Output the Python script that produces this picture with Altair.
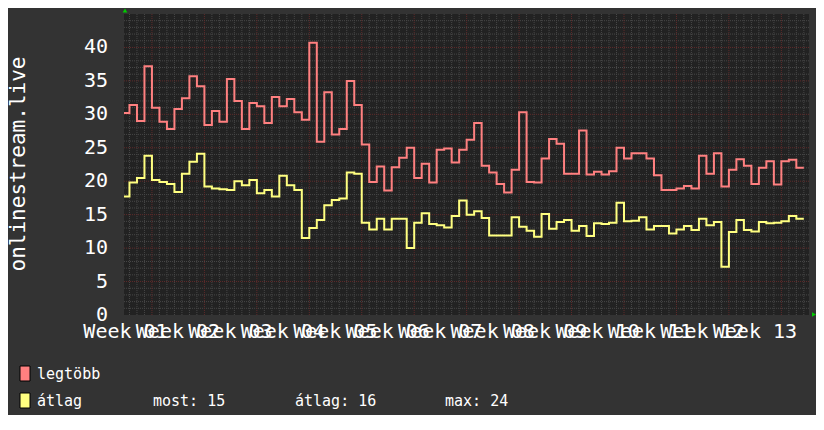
import altair as alt
import pandas as pd

# ---- data (daily steps, first step partially visible) ----
max_vals = [30.2, 31.4, 29.0, 37.2, 31.0, 28.9, 27.8, 30.8, 32.4, 35.7,
            34.2, 28.4, 30.5, 28.9, 35.3, 32.0, 27.8, 31.7, 31.2, 28.7,
            32.6, 31.2, 32.3, 30.3, 29.2, 40.7, 25.9, 33.3, 27.0, 27.8,
            35.0, 31.4, 25.5, 19.9, 22.2, 18.6, 22.1, 23.5, 25.0, 20.5,
            22.6, 19.8, 24.7, 24.9, 22.8, 24.7, 26.2, 28.7, 22.3, 21.3,
            19.6, 18.3, 21.7, 30.3, 19.9, 19.8, 23.4, 26.3, 25.6, 21.1,
            21.1, 27.6, 21.0, 21.4, 21.0, 21.5, 25.0, 23.4, 24.2, 24.2,
            23.4, 20.9, 18.7, 18.7, 18.9, 19.3, 18.9, 23.8, 21.1, 24.2,
            19.2, 21.7, 23.3, 22.3, 19.6, 22.0, 23.0, 19.5, 23.0, 23.2,
            22.0]
avg_vals = [17.7, 19.8, 20.5, 23.8, 20.2, 19.9, 19.6, 18.4, 21.1, 22.9,
            24.1, 19.2, 18.9, 18.8, 18.7, 20.0, 19.4, 20.2, 18.2, 18.7,
            17.7, 20.8, 19.4, 18.7, 11.5, 13.0, 14.2, 16.4, 17.2, 17.4,
            21.3, 21.1, 13.8, 12.8, 14.4, 12.8, 14.4, 14.4, 10.0, 13.8,
            15.2, 13.6, 13.4, 13.1, 14.8, 17.1, 15.0, 15.5, 14.5, 11.9,
            11.9, 11.9, 14.6, 13.2, 12.6, 11.7, 15.1, 12.9, 13.9, 14.2,
            12.6, 13.3, 11.8, 13.7, 13.6, 13.8, 16.8, 14.0, 14.1, 14.6,
            12.8, 13.3, 13.3, 12.2, 12.8, 13.3, 12.7, 14.4, 13.4, 13.9,
            7.2, 12.4, 14.2, 12.7, 12.5, 13.9, 13.7, 13.8, 14.0, 14.8,
            14.4]
day_index = list(range(-1, 90))
week_labels = ["Week %02d" % k for k in range(1, 14)]
y_ticks = [0, 5, 10, 15, 20, 25, 30, 35, 40]
y_title = "onlinestream.live"
legend_names = ["legtöbb", "átlag"]
legend_stats = ["most: 15", "átlag: 16", "max: 24"]

# ---- styling ----
W, H = 685, 301
RED, YEL = "#ff8080", "#ffff80"
FONT = "DejaVu Sans Mono"
xs = alt.Scale(domain=[-0.73, 90.69], nice=False, zero=False)
ys = alt.Scale(domain=[0, 45], nice=False, zero=False)

series = pd.DataFrame({
    "t": day_index + [90],
    "max": max_vals + [max_vals[-1]],
    "avg": avg_vals + [avg_vals[-1]],
})

days = list(range(0, 91))
minor_v = pd.DataFrame({"t": [d for d in days if (d - 3) % 7 != 0]})
major_v = pd.DataFrame({"t": [d for d in days if (d - 3) % 7 == 0]})
minor_h = pd.DataFrame({"v": [v for v in range(1, 45) if v % 5 != 0]})
major_h = pd.DataFrame({"v": [v for v in range(5, 45, 5)]})

MINOR, MAJOR = "#474747", "#5f2b2b"
grid_minor_v = alt.Chart(minor_v).mark_rule(color=MINOR, strokeDash=[1, 1], strokeWidth=1).encode(
    x=alt.X("t:Q", scale=xs, axis=None))
grid_minor_h = alt.Chart(minor_h).mark_rule(color=MINOR, strokeDash=[1, 1], strokeWidth=1).encode(
    y=alt.Y("v:Q", scale=ys, axis=None))
grid_major_v = alt.Chart(major_v).mark_rule(color=MAJOR, strokeDash=[1, 1], strokeWidth=1).encode(
    x=alt.X("t:Q", scale=xs, axis=None))
grid_major_h = alt.Chart(major_h).mark_rule(color=MAJOR, strokeDash=[1, 1], strokeWidth=1).encode(
    y=alt.Y("v:Q", scale=ys, axis=None))

line_max = alt.Chart(series).mark_line(interpolate="step-after", color=RED, strokeWidth=2, clip=True).encode(
    x=alt.X("t:Q", scale=xs, axis=None), y=alt.Y("max:Q", scale=ys, axis=None))
line_avg = alt.Chart(series).mark_line(interpolate="step-after", color=YEL, strokeWidth=2, clip=True).encode(
    x=alt.X("t:Q", scale=xs, axis=None), y=alt.Y("avg:Q", scale=ys, axis=None))

ylab = alt.Chart(pd.DataFrame({"v": y_ticks})).mark_text(
    align="right", baseline="middle", font=FONT, fontSize=20, color="#ffffff").encode(
    y=alt.Y("v:Q", scale=ys, axis=None), x=alt.value(-16), text="v:Q")

wk = pd.DataFrame({"t": [7 * k - 0.53 for k in range(len(week_labels))], "lab": week_labels})
xlab = alt.Chart(wk).mark_text(
    align="center", baseline="alphabetic", font=FONT, fontSize=20, color="#ffffff").encode(
    x=alt.X("t:Q", scale=xs, axis=None), y=alt.value(H + 23), text="lab:N")

one = pd.DataFrame({"a": [0]})
ytitle = alt.Chart(one).mark_text(
    text=y_title, angle=270, align="center", baseline="alphabetic", font=FONT, fontSize=21,
    color="#ffffff").encode(x=alt.value(-99), y=alt.value(150))

arrow_up = alt.Chart(one).mark_point(shape="triangle-up", filled=True, color="#00cc00", size=22, opacity=1).encode(
    x=alt.value(1), y=alt.value(-3.5))
arrow_right = alt.Chart(one).mark_point(shape="triangle-right", filled=True, color="#00cc00", size=22, opacity=1).encode(
    x=alt.value(W + 5), y=alt.value(H - 0.5))

leg = []
for i, (nm, col) in enumerate(zip(legend_names, [RED, YEL])):
    y0 = 352 + 27 * i
    leg.append(alt.Chart(one).mark_rect(fill=col, stroke="#000000", strokeWidth=1).encode(
        x=alt.value(-104), x2=alt.value(-94), y=alt.value(y0), y2=alt.value(y0 + 15)))
    leg.append(alt.Chart(one).mark_text(text=nm, align="left", baseline="middle", font=FONT,
                                        fontSize=15, color="#ffffff").encode(
        x=alt.value(-87), y=alt.value(y0 + 8)))
for txt, xp in zip(legend_stats, [29, 171, 321]):
    leg.append(alt.Chart(one).mark_text(text=txt, align="left", baseline="middle", font=FONT,
                                        fontSize=15, color="#ffffff").encode(
        x=alt.value(xp), y=alt.value(387)))

chart = alt.layer(
    grid_minor_v, grid_minor_h, grid_major_v, grid_major_h,
    line_max, line_avg, ylab, xlab, ytitle, arrow_up, arrow_right, *leg
).properties(
    width=W, height=H,
    padding={"left": 116, "top": 6, "right": 7, "bottom": 100},
    autosize=alt.AutoSizeParams(type="none"),
    background="#333333",
).configure_view(fill="#222222", stroke=None)

chart.save("out.html", embed_options={"renderer": "svg", "actions": False})
